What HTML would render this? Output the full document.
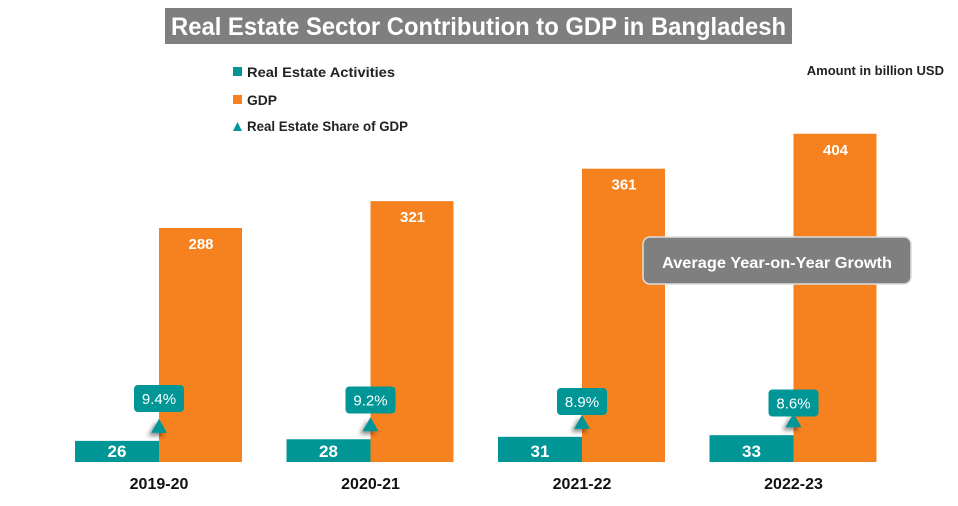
<!DOCTYPE html>
<html><head><meta charset="utf-8"><style>
body{margin:0;background:#fff;font-family:"Liberation Sans",Arial,sans-serif}
svg text{font-family:"Liberation Sans",Arial,sans-serif}
</style></head><body>
<svg width="958" height="501">
<defs><filter id="sh" x="-50%" y="-50%" width="200%" height="200%"><feDropShadow dx="-3" dy="3" stdDeviation="2" flood-opacity="0.45"/></filter></defs>
<rect x="165" y="8" width="627" height="36" fill="#7f7f7f"/>
<text x="171" y="35" textLength="615" lengthAdjust="spacingAndGlyphs" fill="#fff" font-size="25" font-weight="bold">Real Estate Sector Contribution to GDP in Bangladesh</text>
<g>
<rect x="233" y="67" width="9" height="9" fill="#009696"/>
<text x="247" y="77" textLength="148" lengthAdjust="spacingAndGlyphs" font-size="14" font-weight="bold" fill="#222">Real Estate Activities</text>
<rect x="233" y="95" width="9" height="9" fill="#f5821f"/>
<text x="247" y="105" textLength="30" lengthAdjust="spacingAndGlyphs" font-size="14" font-weight="bold" fill="#222">GDP</text>
<polygon points="237.5,122 233,131 242,131" fill="#009696"/>
<text x="247" y="131" textLength="161" lengthAdjust="spacingAndGlyphs" font-size="14" font-weight="bold" fill="#222">Real Estate Share of GDP</text>
</g>
<text x="944" y="75" text-anchor="end" font-size="13" font-weight="bold" fill="#222">Amount in billion USD</text>
<g id="bars"></g>
<g>
<rect x="643" y="237" width="268" height="47" rx="7" fill="#7f7f7f" stroke="#ddd" stroke-width="1.5"/>
<text x="662" y="268" textLength="230" lengthAdjust="spacingAndGlyphs" font-size="16" font-weight="bold" fill="#fff">Average Year-on-Year Growth</text>
</g>
</svg>
<script>
const categories=["2019-20","2020-21","2021-22","2022-23"];
const realEstate=[26,28,31,33];
const gdp=[288,321,361,404];
const shareLabels=["9.4%","9.2%","8.9%","8.6%"];
const NS="http://www.w3.org/2000/svg";
const g=document.getElementById('bars');
const base=462, scale=0.8125, x0=75, step=211.5, bw=84;
function y(v){return base-v*scale;}
function mk(t,a,parent){const e=document.createElementNS(NS,t);for(const k in a)e.setAttribute(k,a[k]);(parent||g).appendChild(e);return e;}
categories.forEach((c,i)=>{
  const x=x0+i*step;
  const t=mk('rect',{x:x,y:y(realEstate[i]),width:bw,height:base-y(realEstate[i]),fill:'#009696'});
  
  
  const tl=mk('text',{x:x+bw/2,y:base-5,'text-anchor':'middle','font-size':17,'font-weight':'bold',fill:'#fff'});tl.textContent=realEstate[i];
  
  
  const o=mk('rect',{x:x+bw,y:y(gdp[i]),width:bw-1,height:base-y(gdp[i]),fill:'#f5821f'});
  
  
  const ol=mk('text',{x:x+bw+bw/2,y:y(gdp[i])+21,'text-anchor':'middle','font-size':15,'font-weight':'bold',fill:'#fff'});ol.textContent=gdp[i];
  
  
  const ty=y(realEstate[i]);
  const tri=mk('polygon',{points:`${x+bw},${ty-22} ${x+bw-8},${ty-8} ${x+bw+8},${ty-8}`,fill:'#009696',filter:'url(#sh)'});
  
  
  const by=385+i*1.5;
  const b=mk('rect',{x:x+bw-25,y:by,width:50,height:27,rx:4,fill:'#009696'});
  
  
  const bl=mk('text',{x:x+bw,y:by+19,'text-anchor':'middle','font-size':15,fill:'#fff'});bl.textContent=shareLabels[i];
  
  
  const xl=mk('text',{x:x+bw,y:489,'text-anchor':'middle','font-size':16,'font-weight':'bold',fill:'#111'});xl.textContent=c;
  
  
});
</script>
</body></html>
